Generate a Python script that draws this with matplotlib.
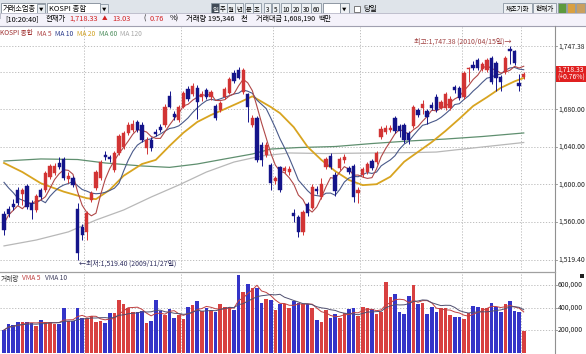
import matplotlib
matplotlib.use('Agg')
import matplotlib.pyplot as plt
from matplotlib.patches import Rectangle
import numpy as np
import pandas as pd

plt.rcParams['font.family'] = ['Noto Sans CJK KR', 'DejaVu Sans']

# ---------------- data ----------------
opens = [1568, 1574, 1579, 1594, 1590, 1598, 1580, 1572, 1594, 1594,
         1608, 1612, 1623, 1627, 1606, 1607, 1573, 1554, 1549, 1583,
         1596, 1607, 1631, 1629, 1615, 1633, 1640, 1655, 1658, 1667,
         1663, 1639, 1647, 1656, 1661, 1663, 1694, 1675, 1669, 1683,
         1702, 1696, 1703, 1693, 1701, 1693, 1684, 1679, 1693, 1698,
         1719, 1722, 1699, 1696, 1663, 1671, 1642, 1631, 1621, 1603,
         1618, 1614, 1613, 1569, 1565, 1549, 1579, 1575, 1595, 1586,
         1618, 1630, 1610, 1617, 1626, 1617, 1619, 1591, 1610, 1613,
         1625, 1624, 1650, 1656, 1658, 1671, 1662, 1663, 1655, 1662,
         1679, 1682, 1678, 1685, 1693, 1682, 1681, 1681, 1704, 1703,
         1693, 1723, 1728, 1733, 1723, 1722, 1735, 1730, 1715, 1720,
         1745, 1742, 1708, 1715]
highs = [1571, 1577, 1584, 1597, 1596, 1600, 1583, 1589, 1596, 1614,
         1622, 1623, 1629, 1629, 1613, 1609, 1580, 1557, 1571, 1593,
         1615, 1626, 1636, 1631, 1635, 1654, 1657, 1666, 1669, 1669,
         1666, 1650, 1650, 1659, 1664, 1686, 1700, 1678, 1685, 1700,
         1705, 1708, 1706, 1700, 1703, 1701, 1686, 1689, 1704, 1715,
         1722, 1725, 1724, 1698, 1674, 1673, 1645, 1645, 1623, 1609,
         1620, 1620, 1619, 1574, 1567, 1572, 1581, 1600, 1598, 1607,
         1629, 1633, 1613, 1629, 1632, 1620, 1622, 1597, 1618, 1624,
         1627, 1636, 1662, 1663, 1663, 1673, 1664, 1665, 1657, 1685,
         1681, 1690, 1680, 1688, 1696, 1690, 1699, 1694, 1706, 1705,
         1721, 1725, 1732, 1735, 1731, 1735, 1737, 1732, 1717, 1737,
         1747.38, 1744, 1718, 1720]
lows = [1546, 1565, 1572, 1578, 1578, 1574, 1563, 1570, 1584, 1592,
        1606, 1610, 1616, 1605, 1601, 1597, 1519.40, 1540, 1540, 1581,
        1594, 1605, 1626, 1624, 1613, 1631, 1638, 1653, 1656, 1656,
        1645, 1632, 1636, 1652, 1656, 1661, 1681, 1669, 1666, 1681,
        1689, 1694, 1670, 1689, 1691, 1690, 1669, 1677, 1691, 1696,
        1708, 1712, 1697, 1667, 1661, 1624, 1620, 1629, 1594, 1600,
        1592, 1612, 1610, 1560, 1543, 1546, 1566, 1573, 1590, 1584,
        1616, 1616, 1587, 1615, 1623, 1611, 1581, 1580, 1608, 1611,
        1615, 1622, 1648, 1654, 1656, 1655, 1650, 1644, 1643, 1660,
        1672, 1675, 1664, 1679, 1677, 1680, 1679, 1679, 1698, 1690,
        1691, 1709, 1722, 1722, 1721, 1720, 1707, 1700, 1700, 1718,
        1729, 1728, 1700, 1712]
closes = [1551, 1568, 1576, 1580, 1594, 1576, 1572, 1587, 1586, 1612,
          1620, 1620, 1618, 1607, 1609, 1599, 1526, 1546, 1569, 1591,
          1613, 1624, 1629, 1627, 1633, 1652, 1655, 1663, 1664, 1658,
          1647, 1647, 1639, 1654, 1658, 1683, 1683, 1672, 1683, 1698,
          1691, 1705, 1688, 1697, 1693, 1699, 1671, 1687, 1702, 1713,
          1710, 1714, 1722, 1683, 1671, 1626, 1626, 1642, 1601, 1607,
          1594, 1617, 1616, 1566, 1549, 1570, 1569, 1597, 1593, 1600,
          1627, 1618, 1593, 1627, 1629, 1613, 1586, 1594, 1616, 1622,
          1617, 1633, 1659, 1660, 1660, 1657, 1657, 1647, 1647, 1683,
          1674, 1686, 1672, 1681, 1679, 1688, 1697, 1691, 1701, 1692,
          1719, 1724, 1724, 1724, 1729, 1733, 1709, 1714, 1709, 1735,
          1742, 1730, 1705.30, 1718.33]
volumes = [200, 252, 244, 275, 268, 275, 260, 238, 289, 268,
           275, 252, 252, 393, 280, 280, 393, 304, 311, 326,
           275, 280, 260, 348, 348, 467, 428, 400, 357, 363,
           369, 260, 280, 467, 369, 329, 384, 311, 329, 297,
           407, 422, 458, 369, 393, 369, 357, 428, 407, 407,
           378, 689, 540, 607, 576, 576, 436, 476, 467, 378,
           428, 428, 400, 460, 440, 428, 428, 393, 289, 275,
           378, 311, 340, 304, 348, 384, 400, 327, 407, 400,
           384, 340, 363, 630, 494, 518, 363, 340, 502, 600,
           428, 436, 340, 404, 363, 393, 393, 333, 319, 319,
           295, 348, 416, 407, 393, 393, 443, 407, 363, 428,
           457, 369, 357, 191]  # thousands of shares

# moving-average values read where the window starts before the chart
ma5_head = [1558, 1567, 1572, 1577]
ma10_head = [1602, 1596, 1591, 1585, 1583, 1581, 1579, 1580, 1583]
ma20_idx = [0, 4, 8, 13, 18, 20, 23, 26, 30, 33, 36, 39, 42, 45, 48, 51, 54,
            58, 60, 63, 66, 69, 72, 75, 78, 81, 84, 87, 90, 93, 96, 99, 102,
            105, 108, 111, 113]
ma20_val = [1622.7, 1613, 1601, 1592, 1585, 1584, 1594, 1609, 1621.6, 1626,
            1641, 1655, 1666.5, 1674, 1680.4, 1687, 1694, 1682.6, 1676, 1661,
            1640, 1626, 1614, 1604.5, 1599, 1600, 1608, 1624, 1634.5, 1645,
            1657, 1670, 1683.6, 1693, 1703, 1710, 1713.6]
ma60_idx = [0, 8, 16, 22, 30, 36, 42, 48, 54, 58, 64, 72, 80, 88, 96, 104, 113]
ma60_val = [1624.8, 1627, 1626.4, 1622.7, 1619.5, 1618, 1621.6, 1627, 1632.3,
            1637.6, 1639.2, 1640.3, 1643.5, 1646.2, 1648.3, 1651, 1654.8]
ma120_idx = [0, 7, 14, 20, 26, 32, 38, 44, 50, 56, 62, 70, 80, 90, 94, 98, 104, 113]
ma120_val = [1534, 1540.3, 1549, 1561.7, 1572.4, 1586.3, 1599.1, 1613, 1623.7,
             1630.2, 1633.4, 1632.8, 1633.4, 1633.9, 1634.4, 1636.6, 1639.8, 1644.6]

month_breaks = [17.5, 38.5, 58.5, 77.5, 99.5, 112.5]
price_ticks = [1747.38, 1680.00, 1640.00, 1600.00, 1560.00, 1519.40]
price_grid = [1747.38, 1720, 1680, 1640, 1600, 1560, 1519.40]
vol_ticks = [600, 400, 200]

# ---------------- layout ----------------
W, H = 586, 354
fig = plt.figure(figsize=(W / 100, H / 100), dpi=100)
fig.patch.set_facecolor('white')

bg = fig.add_axes([0, 0, 1, 1], zorder=10)
bg.set_xlim(0, W)
bg.set_ylim(H, 0)
bg.axis('off')

def ax_px(x0, y0, x1, y1, z=2):
    return fig.add_axes([x0 / W, 1 - y1 / H, (x1 - x0) / W, (y1 - y0) / H], zorder=z)

def rect(x, y, w, h, fc, ec='none', lw=0.6, z=1):
    bg.add_patch(Rectangle((x, y), w, h, facecolor=fc, edgecolor=ec, linewidth=lw, zorder=z))

def txt(x, y, s, size=6.3, color='#000000', ha='left', va='center', **kw):
    bg.text(x, y, s, fontsize=size, color=color, ha=ha, va=va, zorder=5, **kw)

# toolbar row 1
rect(0, 0, W, 19, '#dfe4ea')
rect(1, 3, 44, 13, 'white', '#7f8a96')
txt(2.5, 9.5, '거래소업종', size=5.2)
rect(37, 4, 8, 11, '#e9edf1', '#8a96a2')
txt(41, 9.5, '▼', size=3.2, ha='center')
rect(47, 3, 53, 13, 'white', '#7f8a96')
txt(49, 9.5, 'KOSPI 종합', size=5.4)
rect(100, 4, 8, 11, '#e9edf1', '#8a96a2')
txt(104, 9.5, '▼', size=3.2, ha='center')
btns = [('일', 211, 8, True), ('주', 219, 8, False), ('월', 227, 8, False), ('년', 235, 8, False),
        ('분', 245, 8, False), ('초', 253, 8, False), ('3', 264, 7, False), ('5', 272, 7, False),
        ('10', 281, 10, False), ('20', 291, 10, False), ('30', 301, 10, False), ('60', 311, 10, False)]
for s, x, w, sel in btns:
    rect(x, 3, w, 13, '#404a56' if sel else '#eef1f4', '#8a96a2')
    txt(x + w / 2, 9.5, s, size=4.6, ha='center', color='white' if sel else 'black')
rect(323, 3, 17, 13, 'white', '#7f8a96')
rect(340, 3, 9, 13, '#eef1f4', '#7f8a96')
txt(344.5, 9.5, '▼', size=3.2, ha='center')
rect(354, 6, 6, 6, 'white', '#666666')
txt(363, 9.5, '당일', size=5.4)
rect(503, 3, 29, 13, '#eef1f4', '#8a96a2')
txt(517.5, 9.5, '채초기화', size=4.6, ha='center')
rect(533, 3, 23, 13, '#eef1f4', '#8a96a2')
txt(544.5, 9.5, '현재가', size=4.8, ha='center')
rect(558, 3, 8, 13, '#5c9a3c', '#8a96a2')
rect(567, 3, 8, 13, '#d9a040', '#8a96a2')
rect(576, 3, 9, 13, '#c8a060', '#8a96a2')

# row 2 (quote line)
rect(0, 12.5, W, 13, '#f4f2fa', '#b8b8c8')
rect(0, 19, W, 7, '#f4f2fa')
txt(5, 19, '[10:20:40]', size=5.3)
txt(46, 19, '현재가', size=5.3)
txt(69, 19, '1,718.33', size=5.3, color='#d22020')
txt(102, 19, '▲', size=4.0, color='#d22020')
txt(112, 19, '13.03', size=5.3, color='#d22020')
txt(143, 19, '(', size=5.3)
txt(150, 19, '0.76', size=5.3, color='#d22020')
txt(170, 19, '%)', size=5.3)
txt(186, 19, '거래량 195,346', size=5.3)
txt(241, 19, '천', size=5.3)
txt(256, 19, '거래대금 1,608,190', size=5.1)
txt(318, 19, '백만', size=5.1)
bg.plot([0, W], [26, 26], color='#a0a0b0', lw=0.8, zorder=3)

# ---------------- price panel ----------------
n = len(closes)
xi = np.arange(n)
O = np.array(opens); Hh = np.array(highs); L = np.array(lows); C = np.array(closes)
up = C >= O
RED, BLUE = '#d23434', '#14148a'
col = np.where(up, RED, BLUE)

ax = ax_px(0, 27, 555, 270)
Y0, Y1 = 1720 - (270 - 72) / 0.935, 1720 + (72 - 27) / 0.935
ax.set_ylim(Y0, Y1)
ax.set_xlim(-0.87, 119.8)
for gy in price_grid:
    ax.axhline(gy, color='#b4b4b4', lw=0.6, ls=(0, (1.5, 2)), zorder=0)
for gx in month_breaks:
    ax.axvline(gx, color='#b4b4b4', lw=0.6, ls=(0, (1.5, 2)), zorder=0)

closes_s = pd.Series(C)
ma5 = closes_s.rolling(5).mean().to_numpy()
ma5[:4] = ma5_head
ma10 = closes_s.rolling(10).mean().to_numpy()
ma10[:9] = ma10_head
ax.plot(ma120_idx, ma120_val, color='#b8b8b8', lw=0.9, zorder=1)
ax.plot(ma60_idx, ma60_val, color='#5f8f6f', lw=0.9, zorder=1)
ax.plot(ma20_idx, ma20_val, color='#d8a420', lw=1.3, zorder=1)
ax.plot(xi, ma10, color='#4a5a8a', lw=0.8, zorder=1)
ax.plot(xi, ma5, color='#b04848', lw=0.8, zorder=1)

ax.vlines(xi, L, Hh, colors=col, lw=0.7, zorder=2)
body_h = np.maximum(np.abs(C - O), 1.2)
ax.bar(xi, body_h, bottom=np.minimum(O, C), width=0.72, color=col, edgecolor=col, lw=0.3, zorder=3)

ax.text(110.3, 1748.5, '최고:1,747.38 (2010/04/15일)→', fontsize=5.0, color='#a04040',
        ha='right', va='bottom')
ax.text(16.2, 1515.5, '←최저:1,519.40 (2009/11/27일)', fontsize=5.0, color='#303060',
        ha='left', va='center')
ax.set_xticks([]); ax.set_yticks([])
for s in ax.spines.values():
    s.set_visible(False)

# legend line
lg = [('KOSPI 종합', '#a03030', 0), ('MA 5', '#b04848', 37), ('MA 10', '#2a3a8a', 55),
      ('MA 20', '#d0a020', 77), ('MA 60', '#4f8f5f', 99), ('MA 120', '#a8a8a8', 120)]
for s, c, lx in lg:
    bg.text(lx, 33.5, s, fontsize=4.8, color=c, va='center', zorder=6)

# right axis
bg.plot([555, 555], [26, H], color='#909090', lw=0.8, zorder=6)
for p in price_ticks:
    yy = 72 + (1720 - p) * 0.935
    bg.plot([555, 557], [yy, yy], color='#909090', lw=0.6, zorder=6)
    txt(558, yy, f'{p:,.2f}', size=4.9, color='#202020')
rect(556, 66, 30, 16, '#e02020', z=7)
bg.text(571, 70, '1,718.33', fontsize=4.9, color='white', ha='center', va='center', zorder=8)
bg.text(571, 78, '(+0.76%)', fontsize=4.9, color='white', ha='center', va='center', zorder=8)

# ---------------- volume panel ----------------
bg.plot([0, 555], [271.5, 271.5], color='#a0a0a0', lw=0.9, zorder=6)
axv = ax_px(0, 272, 555, 354)
axv.set_xlim(-0.87, 119.8)
axv.set_ylim(-13.3, 715.6)
for gv in vol_ticks:
    axv.axhline(gv, color='#b4b4b4', lw=0.6, ls=(0, (1.5, 2)), zorder=0)
for gx in month_breaks:
    axv.axvline(gx, color='#b4b4b4', lw=0.6, ls=(0, (1.5, 2)), zorder=0)
V = np.array(volumes, dtype=float)
vcol = np.where(up, '#d84040', '#3434c8')
axv.bar(xi, V, width=0.78, color=vcol, zorder=2)
vs = pd.Series(V)
axv.plot(xi, vs.rolling(5, min_periods=1).mean(), color='#c04040', lw=0.7, zorder=3)
axv.plot(xi, vs.rolling(10, min_periods=1).mean(), color='#505070', lw=0.7, zorder=3)
axv.set_xticks([]); axv.set_yticks([])
for s in axv.spines.values():
    s.set_visible(False)
bg.text(0.5, 278.5, '거래량', fontsize=4.8, color='#303030', va='center', zorder=6)
bg.text(22, 278.5, 'VMA 5', fontsize=4.8, color='#c04040', va='center', zorder=6)
bg.text(45, 278.5, 'VMA 10', fontsize=4.8, color='#404060', va='center', zorder=6)
for v in vol_ticks:
    yy = 352.5 - v / 8.889
    bg.plot([555, 557], [yy, yy], color='#909090', lw=0.6, zorder=6)
    txt(558, yy, f'{v * 1000:,}', size=4.9, color='#202020')
rect(580, 274, 4, 4, '#202020', z=6)

fig.savefig('out.png', dpi=100)
